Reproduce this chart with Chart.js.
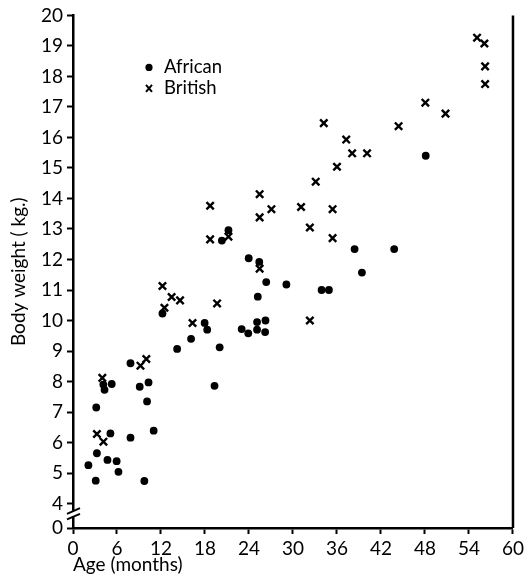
<!DOCTYPE html>
<html>
<head>
<meta charset="utf-8">
<script src="https://cdn.jsdelivr.net/npm/chart.js@4.4.0/dist/chart.umd.min.js"></script>
<style>
  html, body { margin: 0; padding: 0; background: #fff; }
  #wrap { width: 527px; height: 577px; position: relative; }
</style>
</head>
<body>
<div id="wrap"><canvas id="myChart"></canvas></div>
<script>
// body weight (kg) against age (months)
const africanAge = [12.2, 17.95, 18.3, 16.1, 14.2, 20.0, 7.84, 5.28, 4.14, 4.3, 9.1, 10.3, 10.1, 3.17, 19.3,
  5.1, 7.84, 11.0, 3.26, 2.1, 4.7, 5.95, 6.2, 3.1, 9.73, 21.2, 20.3, 23.96, 25.4, 26.35, 29.1, 33.9, 34.9,
  25.2, 23.0, 23.9, 25.1, 25.1, 26.25, 26.2, 48.1, 38.4, 43.8, 39.4];
const africanWeight = [10.23, 9.92, 9.7, 9.4, 9.07, 9.12, 8.6, 7.92, 7.9, 7.73, 7.83, 7.97, 7.35, 7.15, 7.86,
  6.3, 6.16, 6.39, 5.65, 5.26, 5.43, 5.39, 5.04, 4.75, 4.74, 12.96, 12.62, 12.04, 11.92, 11.26, 11.18, 11.0, 11.0,
  10.78, 9.72, 9.58, 9.95, 9.7, 10.0, 9.62, 15.4, 12.34, 12.34, 11.57];

const britishAge = [12.2, 13.45, 14.6, 12.47, 19.65, 16.3, 10.0, 9.2, 4.0, 3.26, 4.15, 18.7, 18.7, 21.2,
  25.45, 25.45, 27.06, 25.45, 31.1, 32.3, 33.1, 35.4, 32.3, 55.1, 56.1, 56.2, 56.2, 48.05, 50.8, 44.4,
  34.2, 37.26, 38.07, 40.1, 36.0, 35.4];
const britishWeight = [11.13, 10.77, 10.66, 10.42, 10.56, 9.92, 8.74, 8.52, 8.12, 6.28, 6.03, 13.76, 12.66, 12.75,
  14.14, 13.38, 13.65, 11.7, 13.72, 13.05, 14.55, 13.65, 10.0, 19.27, 19.08, 18.33, 17.75, 17.14, 16.78, 16.37,
  16.47, 15.93, 15.48, 15.48, 15.04, 12.7];

const xTicks = [0, 6, 12, 18, 24, 30, 36, 42, 48, 54, 60];
const yTicks = [4, 5, 6, 7, 8, 9, 10, 11, 12, 13, 14, 15, 16, 17, 18, 19, 20];
const yBreak = 3.2;        // bottom of the broken axis
const yBreakLabel = '0';

const FONT = 'Lato, "DejaVu Sans", sans-serif';

const toPoints = (xs, ys) => xs.map((x, i) => ({ x: x, y: ys[i] }));

// axis break, right frame line and the legend inside the plot
const frameExtras = {
  id: 'frameExtras',
  afterDraw(chart) {
    const { ctx, chartArea: { left, right, top, bottom }, scales: { y } } = chart;
    ctx.save();
    ctx.strokeStyle = '#000';

    // right frame
    ctx.lineWidth = 2.5;
    ctx.beginPath();
    ctx.moveTo(right, top);
    ctx.lineTo(right, bottom);
    ctx.stroke();

    // break on the y axis
    const mid = (y.getPixelForValue(yTicks[0]) + y.getPixelForValue(yBreak)) / 2 - 2;
    ctx.fillStyle = '#fff';
    ctx.fillRect(left - 2, mid - 3, 4, 6);
    ctx.lineWidth = 2;
    [-2.8, 2.8].forEach(d => {
      ctx.beginPath();
      ctx.moveTo(left - 6, mid + d + 2.8);
      ctx.lineTo(left + 7, mid + d - 2.8);
      ctx.stroke();
    });

    // legend
    const lx = left + 76, ly = top + 52;
    chart.data.datasets.forEach((ds, i) => {
      const yy = ly + i * 21;
      ctx.fillStyle = '#000';
      if (ds.pointStyle === 'circle') {
        ctx.beginPath();
        ctx.arc(lx, yy, 3.6, 0, Math.PI * 2);
        ctx.fill();
      } else {
        ctx.lineWidth = 2;
        ctx.beginPath();
        ctx.moveTo(lx - 3, yy - 3.5); ctx.lineTo(lx + 3, yy + 3.5);
        ctx.moveTo(lx + 3, yy - 3.5); ctx.lineTo(lx - 3, yy + 3.5);
        ctx.stroke();
      }
      ctx.font = '18.5px ' + FONT;
      ctx.textAlign = 'left';
      ctx.textBaseline = 'middle';
      ctx.fillText(ds.label, lx + 15, yy);
    });
    ctx.restore();
  }
};

const config = {
  type: 'scatter',
  data: {
    datasets: [{
      label: 'African',
      data: toPoints(africanAge, africanWeight),
      pointStyle: 'circle',
      pointRadius: 3.9,
      backgroundColor: '#000',
      borderColor: '#000',
      borderWidth: 0
    }, {
      label: 'British',
      data: toPoints(britishAge, britishWeight),
      pointStyle: 'crossRot',
      pointRadius: 5.2,
      backgroundColor: '#000',
      borderColor: '#000',
      borderWidth: 2.4
    }]
  },
  options: {
    responsive: true,
    maintainAspectRatio: false,
    animation: false,
    layout: { padding: { top: 8, right: 9, left: 0, bottom: 0 } },
    plugins: {
      legend: { display: false },
      tooltip: { enabled: false }
    },
    scales: {
      x: {
        type: 'linear',
        min: 0,
        max: 60,
        afterBuildTicks: s => { s.ticks = xTicks.map(v => ({ value: v })); },
        ticks: { autoSkip: false, maxRotation: 0, color: '#000', font: { family: FONT, size: 19 }, padding: 3 },
        grid: { drawOnChartArea: false, tickLength: 6, tickWidth: 2, color: '#000' },
        border: { display: true, color: '#000', width: 2.5 },
        title: { display: true, text: 'Age (months)', align: 'start', color: '#000',
          font: { family: FONT, size: 19 }, padding: { top: 0, bottom: 1 } },
        afterFit: s => { s.height = 49; }
      },
      y: {
        type: 'linear',
        min: yBreak,
        max: 20,
        afterBuildTicks: s => { s.ticks = [yBreak].concat(yTicks).map(v => ({ value: v })); },
        ticks: {
          autoSkip: false,
          color: '#000',
          font: { family: FONT, size: 19 },
          padding: 4,
          callback: v => (v === yBreak ? yBreakLabel : v)
        },
        grid: { drawOnChartArea: false, tickLength: 6, tickWidth: 2, color: '#000' },
        border: { display: true, color: '#000', width: 2.5 },
        title: { display: true, text: 'Body weight ( kg.)', color: '#000',
          font: { family: FONT, size: 19 }, padding: { top: 7, bottom: 0 } },
        afterFit: s => { s.width = 73; }
      }
    }
  },
  plugins: [frameExtras]
};

const myChart = new Chart(document.getElementById('myChart'), config);
</script>
</body>
</html>
